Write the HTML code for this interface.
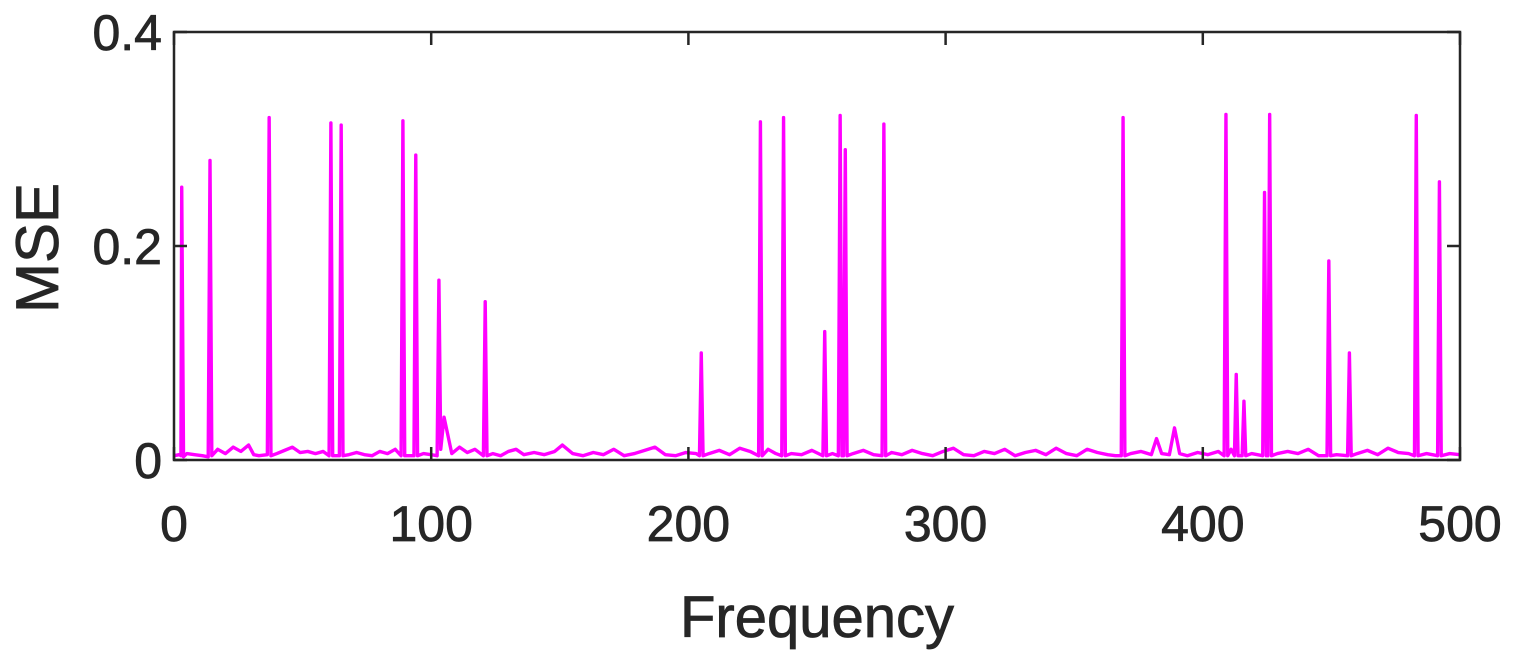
<!DOCTYPE html>
<html><head><meta charset="utf-8"><style>
html,body{margin:0;padding:0;background:#fff;}
svg{display:block;font-family:"Liberation Sans",Arial,sans-serif;}
</style></head><body>
<svg id="chart" width="1513" height="659" viewBox="0 0 1513 659"></svg>
<script>
const xTicks=[0,100,200,300,400,500];
const yTicks=[0,0.2,0.4];
const yTickLabels=["0","0.2","0.4"];
const freq=[
0,2,2.7,3,3.7,5,8,11,13.3,14,14.7,17,20,23,26,29,31,33,36.3,37,37.7,
40,43,46,49,52,55,58,60.3,61,61.7,64.3,65,65.7,68,71,74,77,80,83,86,88.3,89,89.7,
93.3,94,94.7,97,100,102.3,103,103.7,105,108,111,114,117,120.3,121,121.7,
124,127,130,133,136,140,144,148,151,155,159,163,167,171,175,179,183,187,191,195,199,203,204.3,205,205.7,
208,212,216,220,224,227.3,228,228.7,231,234,236.3,237,237.7,240,244,248,252.3,253,253.7,256,258.3,259,259.7,260.3,261,261.7,
264,268,272,275.3,276,276.7,
279,283,287,291,295,299,303,307,311,315,319,323,327,331,335,339,343,347,351,355,359,363,366,368.3,369,369.7,
372,376,380,382,384,387,389,391,394,398,402,406,408.3,409,409.7,
411,412.3,413,413.7,415.3,416,416.7,419,423.3,424,424.7,425.3,426,426.7,
429,433,437,441,445,448.3,449,449.7,452,456.3,457,457.7,
460,464,468,472,476,480,482.3,483,483.7,487,491.3,492,492.7,496,500];
const mse=[
0.004,0.005,0.004,0.255,0.003,0.006,0.005,0.004,0.003,0.28,0.004,0.01,0.006,0.012,0.008,0.014,0.005,0.004,0.005,0.32,0.004,
0.006,0.009,0.012,0.007,0.008,0.006,0.008,0.004,0.315,0.004,0.004,0.313,0.004,0.005,0.007,0.005,0.004,0.008,0.006,0.01,0.004,0.317,0.004,
0.004,0.285,0.004,0.006,0.005,0.004,0.168,0.01,0.04,0.006,0.012,0.007,0.01,0.004,0.148,0.004,
0.006,0.004,0.008,0.01,0.005,0.007,0.005,0.008,0.014,0.006,0.004,0.007,0.005,0.01,0.004,0.006,0.009,0.012,0.005,0.004,0.007,0.006,0.004,0.1,0.004,
0.006,0.009,0.005,0.011,0.008,0.004,0.316,0.004,0.01,0.006,0.004,0.32,0.004,0.006,0.005,0.009,0.004,0.12,0.004,0.006,0.004,0.322,0.004,0.004,0.29,0.004,
0.006,0.009,0.005,0.004,0.314,0.004,
0.007,0.005,0.009,0.006,0.004,0.008,0.011,0.005,0.004,0.008,0.006,0.01,0.004,0.007,0.009,0.005,0.011,0.006,0.004,0.01,0.007,0.005,0.004,0.004,0.32,0.004,
0.006,0.008,0.005,0.02,0.006,0.005,0.03,0.006,0.004,0.007,0.005,0.008,0.004,0.323,0.004,
0.01,0.004,0.08,0.004,0.004,0.055,0.004,0.006,0.004,0.25,0.004,0.004,0.323,0.004,
0.006,0.008,0.006,0.01,0.004,0.004,0.186,0.004,0.005,0.004,0.1,0.004,
0.006,0.009,0.005,0.011,0.007,0.006,0.004,0.322,0.004,0.006,0.004,0.26,0.004,0.006,0.005];

const NS="http://www.w3.org/2000/svg";
const svg=document.getElementById('chart');
const L=174,R=1460,T=32,B=460;
const xS=v=>L+(v-0)/(500-0)*(R-L);
const yS=v=>B-(v-0)/(0.4-0)*(B-T);
function mk(tag,attrs){const e=document.createElementNS(NS,tag);for(const k in attrs)e.setAttribute(k,attrs[k]);svg.appendChild(e);return e;}

let d='';
const n=Math.min(freq.length,mse.length);
for(let i=0;i<n;i++){d+=(i?'L':'M')+xS(freq[i]).toFixed(2)+','+yS(mse[i]).toFixed(2);}
const line=mk('path',{d:d,fill:'none',stroke:'#ff00ff','stroke-width':3.4,'stroke-linejoin':'round'});



const box=mk('rect',{x:L,y:T,width:R-L,height:B-T,fill:'none',stroke:'#262626','stroke-width':2.5});



xTicks.forEach(v=>{
  const x=xS(v);
  const t1=mk('line',{x1:x,y1:B,x2:x,y2:B-13,stroke:'#262626','stroke-width':2.5});
  
  
  const t2=mk('line',{x1:x,y1:T,x2:x,y2:T+13,stroke:'#262626','stroke-width':2.5});
  
  
  const tx=mk('text',{x:x,y:541,'text-anchor':'middle','font-size':50,fill:'#262626',stroke:'#262626','stroke-width':0.8});
  tx.textContent=String(v);
  
  
});
yTicks.forEach((v,i)=>{
  const y=yS(v);
  const t1=mk('line',{x1:L,y1:y,x2:L+13,y2:y,stroke:'#262626','stroke-width':2.5});
  
  
  const t2=mk('line',{x1:R,y1:y,x2:R-13,y2:y,stroke:'#262626','stroke-width':2.5});
  
  
  const tx=mk('text',{x:L-12,y:y+18,'text-anchor':'end','font-size':50,fill:'#262626',stroke:'#262626','stroke-width':0.8});
  tx.textContent=yTickLabels[i];
  
  
});
const xt=mk('text',{x:(L+R)/2,y:637,'text-anchor':'middle','font-size':58,fill:'#262626',stroke:'#262626','stroke-width':0.8});
xt.textContent='Frequency';


const yt=mk('text',{x:0,y:0,'text-anchor':'middle','font-size':60,fill:'#262626',stroke:'#262626','stroke-width':0.8,transform:'translate(58,248) rotate(-90)'});
yt.textContent='MSE';


</script>
</body></html>
